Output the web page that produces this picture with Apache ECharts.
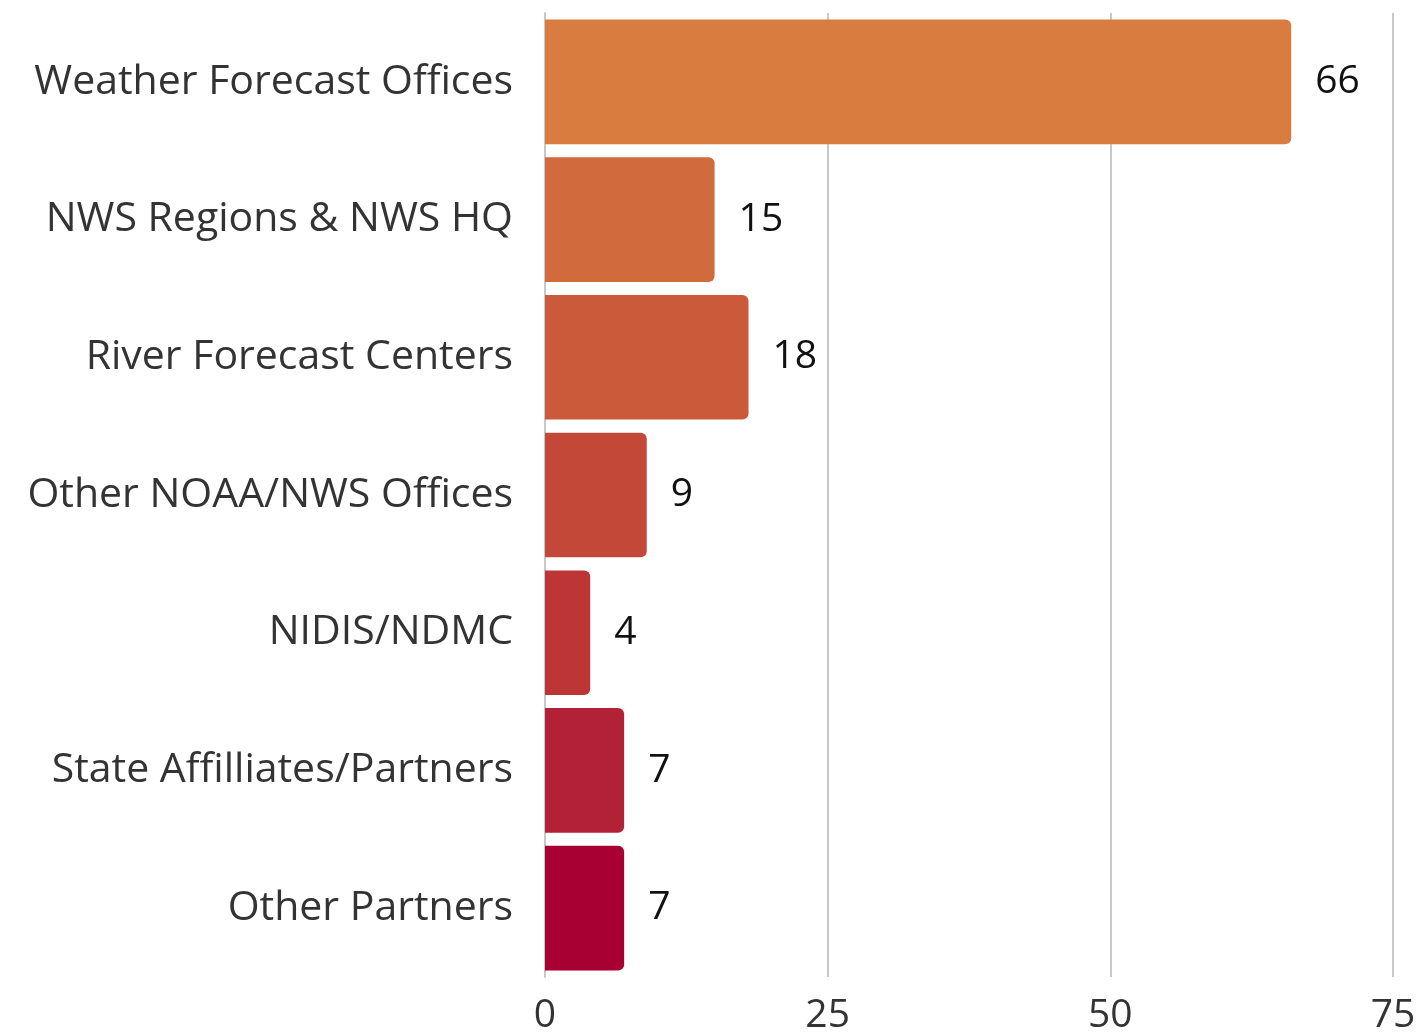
<!DOCTYPE html>
<html>
<head>
<meta charset="utf-8">
<style>
  html, body { margin: 0; padding: 0; background: #fff; }
  #chart { width: 1422px; height: 1035px; }
</style>
<script src="https://cdn.jsdelivr.net/npm/echarts@6/dist/echarts.min.js"></script>
</head>
<body>
<div id="chart"></div>
<script>
var categories = [
  'Weather Forecast Offices',
  'NWS Regions & NWS HQ',
  'River Forecast Centers',
  'Other NOAA/NWS Offices',
  'NIDIS/NDMC',
  'State Affilliates/Partners',
  'Other Partners'
]
var values = [66, 15, 18, 9, 4, 7, 7]
var barColors = ['#D87C40', '#D16B3D', '#CB5A3A', '#C44838', '#BD3636', '#B32136', '#A80033']
var xTicks = [0, 25, 50, 75]

var chart = echarts.init(document.getElementById('chart'))

var option = {
  animation: false,
  textStyle: { fontFamily: 'Open Sans' },
  grid: {
    top: 13,
    left: 545,
    right: 29,
    bottom: 57,
    containLabel: false
  },
  xAxis: {
    type: 'value',
    min: xTicks[0],
    max: xTicks[xTicks.length - 1],
    interval: 25,
    axisLine: { show: false },
    axisTick: { show: false },
    axisLabel: {
      fontSize: 39,
      color: '#333',
      margin: 19,
      fontFamily: 'Open Sans'
    },
    splitLine: {
      show: true,
      lineStyle: { color: '#c8c8c8', width: 2 }
    }
  },
  yAxis: {
    type: 'category',
    inverse: true,
    data: categories,
    axisLine: { show: true, lineStyle: { color: '#c8c8c8', width: 2 } },
    axisTick: { show: false },
    axisLabel: {
      fontSize: 41,
      color: '#333',
      margin: 32,
      fontFamily: 'Open Sans'
    }
  },
  series: [
    {
      type: 'bar',
      barCategoryGap: '9.5%',
      data: values.map(function(v, i) {
        return { value: v, itemStyle: { color: barColors[i] } }
      }),
      itemStyle: { borderRadius: [0, 6, 6, 0] },
      label: {
        show: true,
        position: 'right',
        distance: 24,
        fontSize: 39,
        color: '#111',
        fontFamily: 'Open Sans'
      }
    }
  ]
}

chart.setOption(option)
</script>
</body>
</html>
